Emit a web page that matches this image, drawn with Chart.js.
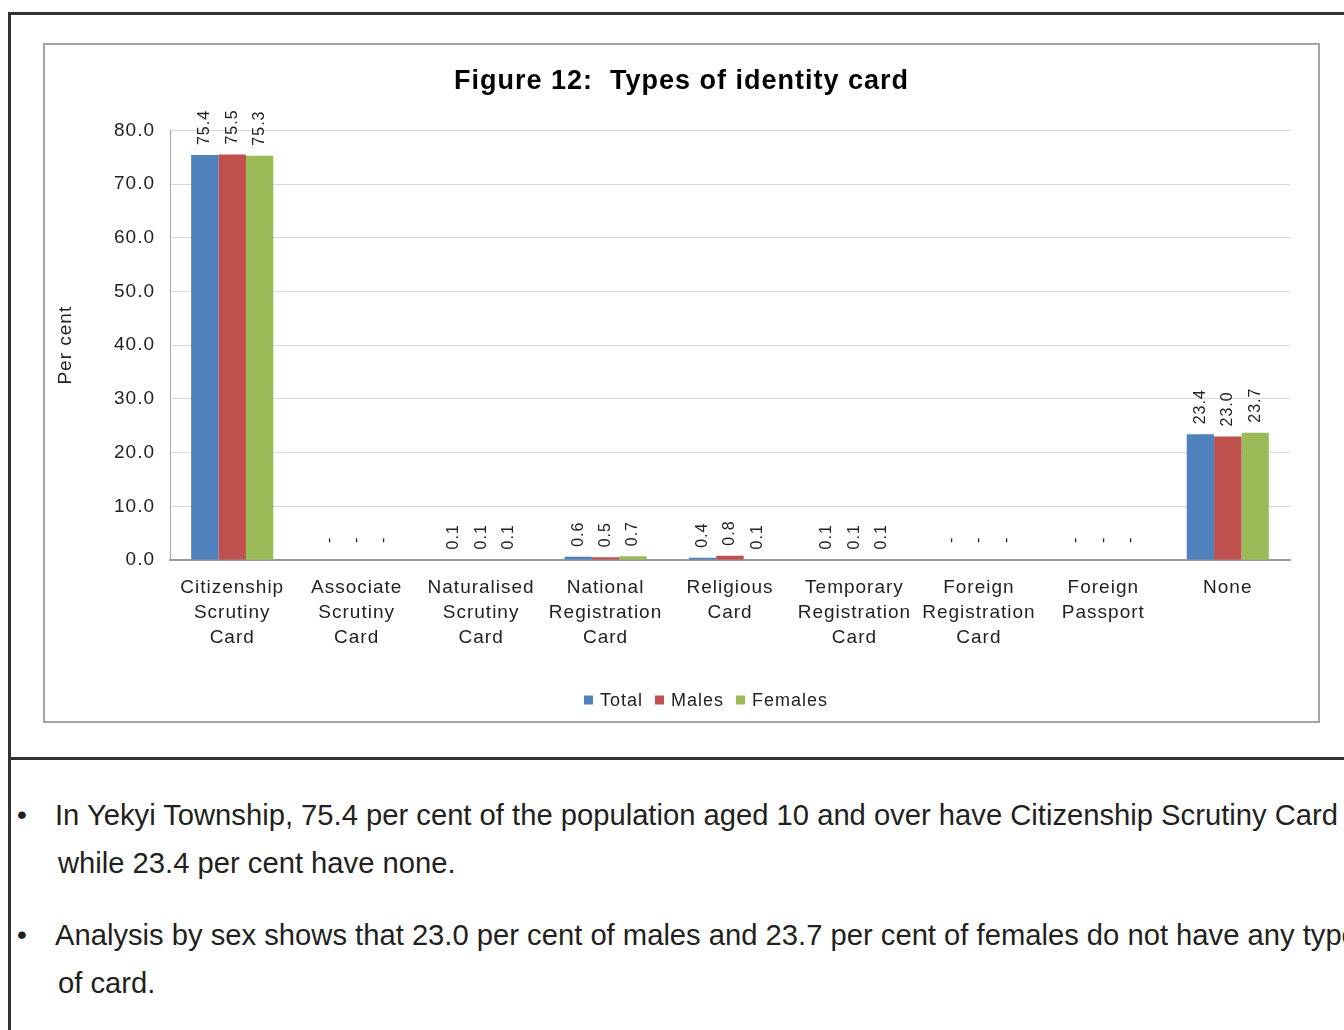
<!DOCTYPE html>
<html>
<head>
<meta charset="utf-8">
<script src="https://cdn.jsdelivr.net/npm/chart.js@4.4.1/dist/chart.umd.min.js"></script>
<style>
html, body { margin: 0; padding: 0; background: #fff; width: 1344px; height: 1030px; overflow: hidden; }
#outer { position: absolute; left: 8px; top: 12px; width: 1400px; height: 1100px; border: 3px solid #333; box-sizing: border-box; }
#divider { position: absolute; left: 8px; top: 757px; width: 1400px; height: 3px; background: #333; }
#frame { position: absolute; left: 43px; top: 43px; width: 1277px; height: 680px; border: 2px solid #a3a3a3; box-sizing: border-box; }
#box { position: relative; width: 1273px; height: 676px; }
.note { position: absolute; left: 55px; font-family: "Liberation Sans", Arial, sans-serif; font-size: 29.2px; line-height: 48px; color: #231f20; white-space: nowrap; }
.note span { padding-left: 3px; }
.bullet { position: absolute; left: 17px; font-family: "Liberation Sans", Arial, sans-serif; font-size: 28px; line-height: 48px; color: #231f20; }
</style>
</head>
<body>
<div id="outer"></div>
<div id="divider"></div>
<div id="frame"><div id="box"><canvas id="chartCards"></canvas></div></div>

<div class="bullet" style="top:791px">•</div>
<div class="note" style="top:791px">In Yekyi Township, 75.4 per cent of the population aged 10 and over have Citizenship Scrutiny Card<br><span>while 23.4 per cent have none.</span></div>
<div class="bullet" style="top:911px">•</div>
<div class="note" style="top:911px">Analysis by sex shows that 23.0 per cent of males and 23.7 per cent of females do not have any type<br><span>of card.</span></div>

<script>
const categories = [
    ["Citizenship", "Scrutiny", "Card"],
    ["Associate", "Scrutiny", "Card"],
    ["Naturalised", "Scrutiny", "Card"],
    ["National", "Registration", "Card"],
    ["Religious", "Card"],
    ["Temporary", "Registration", "Card"],
    ["Foreign", "Registration", "Card"],
    ["Foreign", "Passport"],
    ["None"],
];
// null = "-" in the source table
const total = [75.4, null, 0.1, 0.6, 0.4, 0.1, null, null, 23.4];
const males = [75.5, null, 0.1, 0.5, 0.8, 0.1, null, null, 23.0];
const females = [75.3, null, 0.1, 0.7, 0.1, 0.1, null, null, 23.7];
const yTicks = [0, 10, 20, 30, 40, 50, 60, 70, 80];

const FONT = '"Liberation Sans", Arial, sans-serif';

// Excel-like wide text
const spacing = {
    id: "spacing",
    beforeUpdate(chart) { chart.ctx.letterSpacing = "1px"; },
    beforeLayout(chart) { chart.ctx.letterSpacing = "1px"; },
    beforeDraw(chart) { chart.ctx.letterSpacing = "1px"; },
};

const valueLabels = {
    id: "valueLabels",
    afterDatasetsDraw(chart) {
        const ctx = chart.ctx;
        const y = chart.scales.y;
        ctx.save();
        ctx.font = "16px " + FONT;
        ctx.fillStyle = "#222";
        ctx.textAlign = "left";
        ctx.textBaseline = "middle";
        chart.data.datasets.forEach((ds, i) => {
            chart.getDatasetMeta(i).data.forEach((bar, j) => {
                const v = ds.data[j];
                const start = v == null ? y.getPixelForValue(0) - 17 : bar.y - 10;
                ctx.save();
                ctx.translate(bar.x, start);
                ctx.rotate(-Math.PI / 2);
                ctx.fillText(v == null ? "-" : v.toFixed(1), 0, 0);
                ctx.restore();
            });
        });
        ctx.restore();
    },
};

const legendRow = {
    id: "legendRow",
    afterDraw(chart) {
        const ctx = chart.ctx;
        ctx.save();
        ctx.font = "18px " + FONT;
        ctx.textBaseline = "middle";
        ctx.textAlign = "left";
        const items = chart.data.datasets.map(d => ({
            text: d.label, color: d.backgroundColor, w: ctx.measureText(d.label).width,
        }));
        const box = 9, gap = 7, space = 12;
        const width = items.reduce((s, it) => s + box + gap + it.w, 0) + space * (items.length - 1);
        let x = 661 - width / 2;
        const yc = 655;
        items.forEach(it => {
            ctx.fillStyle = it.color;
            ctx.fillRect(x, yc - box / 2, box, box);
            x += box + gap;
            ctx.fillStyle = "#222";
            ctx.fillText(it.text, x, yc + 1);
            x += it.w + space;
        });
        ctx.restore();
    },
};

new Chart(document.getElementById("chartCards"), {
    type: "bar",
    data: {
        labels: categories,
        datasets: [
            { label: "Total", data: total, backgroundColor: "#4F81BD" },
            { label: "Males", data: males, backgroundColor: "#C0504D" },
            { label: "Females", data: females, backgroundColor: "#9BBB59" },
        ],
    },
    options: {
        responsive: true,
        maintainAspectRatio: false,
        animation: false,
        layout: { padding: 0 },
        datasets: { bar: { categoryPercentage: 0.66, barPercentage: 1 } },
        plugins: {
            legend: { display: false },
            tooltip: { enabled: false },
            title: {
                display: true,
                text: "Figure 12:  Types of identity card",
                color: "#000",
                font: { family: FONT, size: 27, weight: "bold", lineHeight: 1.2 },
                padding: { top: 20, bottom: 33 },
            },
        },
        scales: {
            x: {
                grid: { display: false, drawTicks: false },
                border: { display: true, color: "#999", width: 2 },
                ticks: {
                    color: "#222",
                    font: { family: FONT, size: 19, lineHeight: 1.32 },
                    padding: 15,
                    maxRotation: 0,
                    autoSkip: false,
                },
                afterFit(scale) { scale.height = 161; },
            },
            y: {
                min: 0,
                max: 80,
                afterBuildTicks(scale) { scale.ticks = yTicks.map(v => ({ value: v })); },
                grid: { color: "#d6d6d6", drawTicks: false },
                border: { display: true, color: "#a6a6a6", width: 1 },
                ticks: {
                    color: "#222",
                    font: { family: FONT, size: 19 },
                    padding: 15,
                    callback: v => v.toFixed(1),
                },
                title: {
                    display: true,
                    text: "Per cent",
                    color: "#222",
                    font: { family: FONT, size: 19, lineHeight: 1.2 },
                    padding: { top: 9, bottom: 0 },
                },
                afterFit(scale) { scale.width = 125; },
            },
            // empty right-hand strip so the title stays centred on the whole frame
            yRight: {
                position: "right",
                min: 0,
                max: 80,
                grid: { display: false, drawTicks: false },
                border: { display: false },
                ticks: { display: false },
                afterFit(scale) { scale.width = 28; },
            },
        },
    },
    plugins: [spacing, valueLabels, legendRow],
});
</script>
</body>
</html>
